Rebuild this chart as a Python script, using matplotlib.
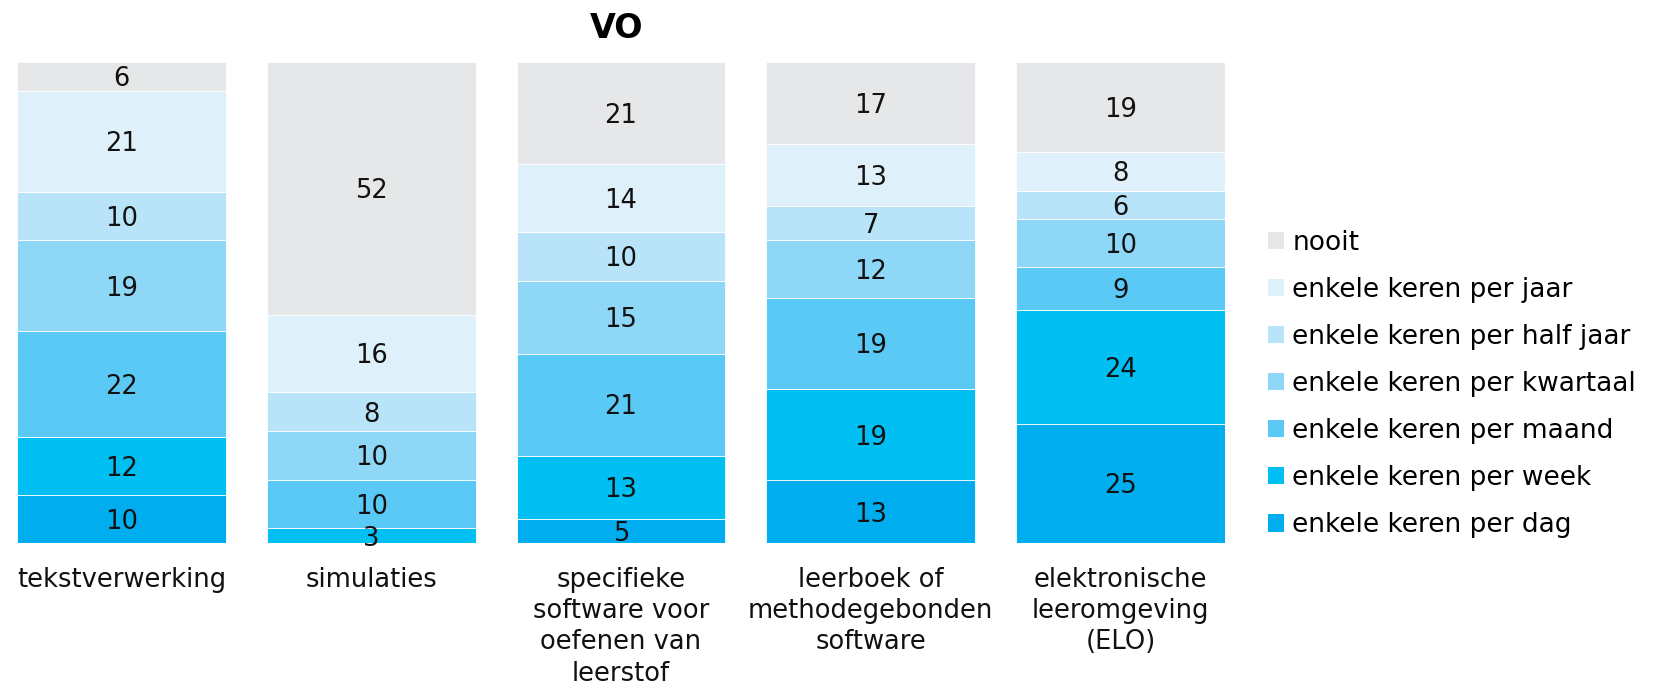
import matplotlib
matplotlib.use("Agg")
import matplotlib.pyplot as plt
from matplotlib.patches import Patch
import numpy as np

plt.rcParams['font.family'] = ['DejaVu Sans']

categories = ["tekstverwerking", "simulaties", "specifieke\nsoftware voor\noefenen van\nleerstof",
              "leerboek of\nmethodegebonden\nsoftware", "elektronische\nleeromgeving\n(ELO)"]
series_names = ["enkele keren per dag", "enkele keren per week", "enkele keren per maand",
                "enkele keren per kwartaal", "enkele keren per half jaar", "enkele keren per jaar", "nooit"]
dag = [10, 0, 5, 13, 25]
week = [12, 3, 13, 19, 24]
maand = [22, 10, 21, 19, 9]
kwartaal = [19, 10, 15, 12, 10]
halfjaar = [10, 8, 10, 7, 6]
jaar = [21, 16, 14, 13, 8]
nooit = [6, 52, 21, 17, 19]
colors = ["#00AEEF", "#00BFF3", "#5BC9F5", "#8FD7F6", "#B8E3F8", "#DEF1FB", "#E6E7E8"]

data = np.array([dag, week, maand, kwartaal, halfjaar, jaar, nooit], dtype=float)
totals = data.sum(axis=0)
norm = data / totals * 100

W, H = 1655, 689
fig = plt.figure(figsize=(W / 100, H / 100), dpi=100)
ax = fig.add_axes([17 / W, (H - 543) / H, (1225 - 17) / W, (543 - 62) / H])
width = 0.836
x = np.arange(len(categories))
bottom = np.zeros(len(categories))
for i in range(len(series_names)):
    ax.bar(x, norm[i], width, bottom=bottom, color=colors[i], edgecolor="white",
           linewidth=0.6, label=series_names[i])
    for j in range(len(categories)):
        if data[i, j] > 0:
            ax.text(x[j], bottom[j] + norm[i, j] / 2 - 0.6, f"{int(data[i, j])}", ha="center", va="center",
                    fontsize=18.5, color="#111111")
    bottom += norm[i]

ax.set_xlim(-width / 2, len(categories) - 1 + width / 2)
ax.set_ylim(0, 100)
ax.set_yticks([])
ax.set_xticks(x)
ax.set_xticklabels(categories, fontsize=18.5, linespacing=1.27, color="#111111")
ax.tick_params(axis="x", length=0, pad=17)
for s in ax.spines.values():
    s.set_visible(False)

fig.text(617 / W, 1 - 29 / H, "VO", ha="center", va="center", fontsize=24, fontweight="bold")

handles = [Patch(facecolor=colors[i], edgecolor="none") for i in range(len(series_names))][::-1]
labels = series_names[::-1]
fig.legend(handles, labels, loc="center left", bbox_to_anchor=(1268 / W, 1 - 384 / H),
           frameon=False, fontsize=19, handlelength=0.62, handleheight=0.62, handletextpad=0.3,
           labelspacing=0.8, borderaxespad=0, borderpad=0)

fig.savefig("out.png", dpi=100)
